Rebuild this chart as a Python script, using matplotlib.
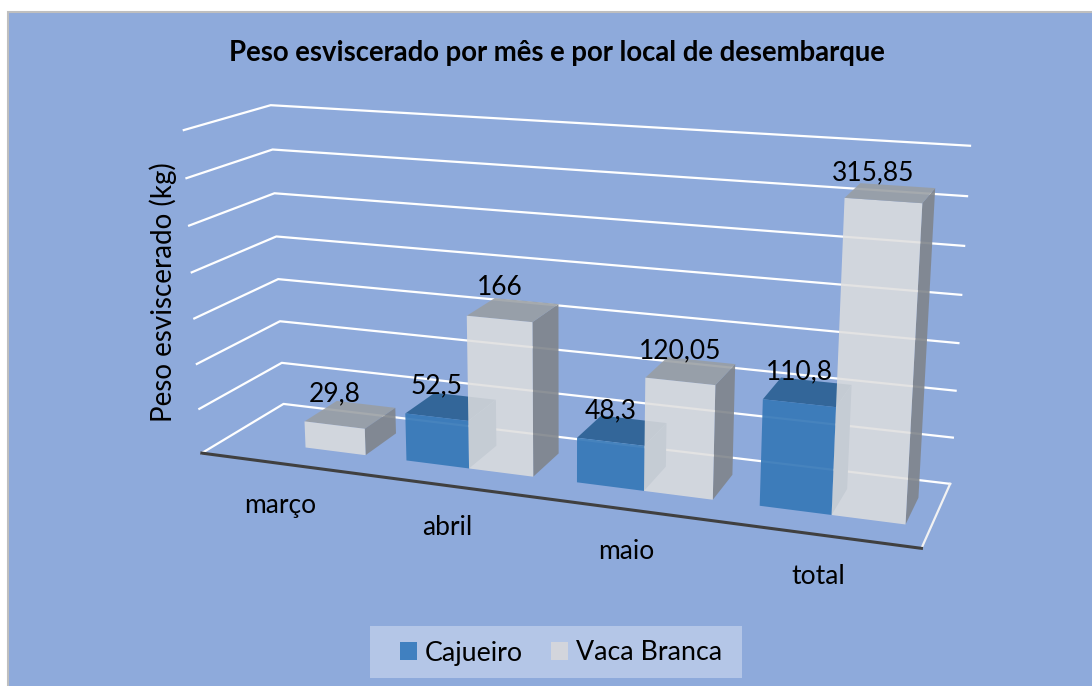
#!/usr/bin/env python3
import matplotlib

matplotlib.use("Agg")
import matplotlib.pyplot as plt
from matplotlib.patches import Patch, Rectangle
from mpl_toolkits.mplot3d import Axes3D, proj3d  # noqa: F401

W, H = 1092, 686

months = ["março", "abril", "maio", "total"]
cajueiro = [None, 52.5, 48.3, 110.8]
vaca_branca = [29.8, 166, 120.05, 315.85]
grid_levels = [0, 50, 100, 150, 200, 250, 300, 350]

BG = "#8EAADB"
LEGEND_BG = "#B4C6E7"
GRID = "white"
NONE = (0, 0, 0, 0)

# faces in bar3d order: -z, +z, -y, +y, -x, +x
CAJ_FACES = [
    NONE,
    (0.17, 0.38, 0.58, 0.92),
    (0.21, 0.47, 0.72, 0.92),
    NONE,
    NONE,
    "#3A6A9F",
]
VB_FACES = [
    NONE,
    (0.60, 0.62, 0.64, 0.88),
    (0.87, 0.87, 0.87, 0.85),
    NONE,
    NONE,
    (0.50, 0.52, 0.55, 0.9),
]

BAR_W = 0.375
BAR_Y = 0.3
BAR_D = 0.42

plt.rcParams["font.family"] = ["Lato", "DejaVu Sans"]


def fmt(v):
    return f"{v:g}".replace(".", ",")


fig = plt.figure(figsize=(W / 100, H / 100), dpi=100, facecolor="white")
fig.add_artist(
    Rectangle(
        (8 / W, -0.01),
        1,
        1.01 - 12 / H,
        transform=fig.transFigure,
        facecolor=BG,
        edgecolor="#BFBFBF",
        linewidth=1.5,
        zorder=-1,
    )
)

# the axes is square and larger than the figure so nothing in the scene clips
S = 964
ax = fig.add_axes(
    [(567 - 0.5135 * S) / W, (379 - 0.5135 * S) / H, S / W, S / H], projection="3d", computed_zorder=False
)
ax.patch.set_alpha(0)
ax.set_axis_off()
ax.set_xlim(0, 4, view_margin=0)
ax.set_ylim(0, 1, view_margin=0)
ax.set_zlim(0, 350, view_margin=0)
ax.set_box_aspect((1, 0.235, 0.455), zoom=0.85)
ax.set_proj_type("persp", focal_length=0.344)
ax.view_init(elev=15, azim=-70)
proj = ax.get_proj()


def label(x, y, z, text, dx=0, dy=0):
    px, py, _ = proj3d.proj_transform(x, y, z, proj)
    ax.annotate(text, (px, py), xytext=(dx, dy), textcoords="offset pixels",
                ha="center", va="center", fontsize=19, zorder=20)


# -- Walls and floor ------------------------------------------------------
for z in grid_levels:
    ax.plot([0, 0, 4], [0, 1, 1], [z, z, z], color=GRID, lw=1.6, zorder=1)
ax.plot([4, 4], [1, 0], [0, 0], color="#F2F2F2", lw=1.6, zorder=1)
ax.plot([0, 4], [0, 0], [0, 0], color="#404040", lw=2.2, zorder=1)

# -- Bars -------------------------------------------------------------------
z_next = 2
for i, (c, v) in enumerate(zip(cajueiro, vaca_branca)):
    mid = i + 0.5
    if c is not None:
        ax.bar3d(mid - BAR_W, BAR_Y, 0, BAR_W, BAR_D, c, color=CAJ_FACES, shade=False, zorder=z_next)
        label(mid - BAR_W / 2, BAR_Y, c, fmt(c), dy=31)
    ax.bar3d(mid, BAR_Y, 0, BAR_W, BAR_D, v, color=VB_FACES, shade=False, zorder=z_next + 1)
    # the tallest label sits a little left of its bar in the original
    label(mid + BAR_W / 2, BAR_Y, v, fmt(v), dx=-10 if i == 3 else 0, dy=28 if i == 3 else 31)
    label(mid, 0, 0, months[i], dx=-1, dy=-42)
    z_next += 2

# -- Text and legend ---------------------------------------------------------
fig.text(556.5 / W, 1 - 53 / H, "Peso esviscerado por mês e por local de desembarque",
         ha="center", va="center", fontsize=19.8, fontweight="bold")
fig.text(163.5 / W, 1 - 292 / H, "Peso esviscerado (kg)", ha="center", va="center",
         rotation=90, fontsize=20)

fig.add_artist(Rectangle((370 / W, 1 - 678 / H), 372 / W, 52 / H, transform=fig.transFigure,
                         facecolor=LEGEND_BG, edgecolor="none", zorder=-0.5))
handles = [Patch(facecolor="#4080C0", label="Cajueiro"), Patch(facecolor="#D3D5DC", label="Vaca Branca")]
fig.legend(
    handles=handles,
    loc="center",
    bbox_to_anchor=(561 / W, 1 - 653 / H),
    ncol=2,
    fontsize=19.3,
    frameon=False,
    handlelength=0.63,
    handleheight=0.63,
    handletextpad=0.27,
    columnspacing=1.08,
)

fig.savefig("out.png", dpi=100)
